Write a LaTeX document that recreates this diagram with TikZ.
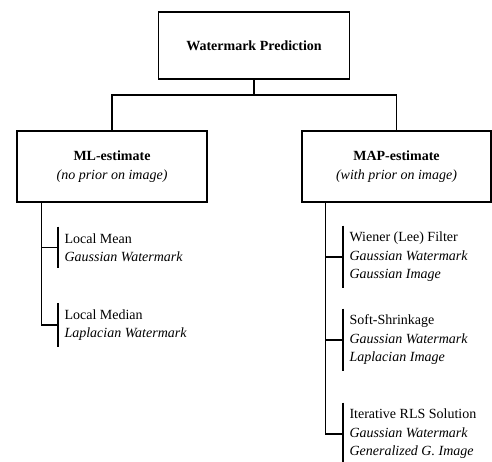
\documentclass[tikz,border=0pt]{standalone}
\usepackage{fontspec}
\setmainfont{Liberation Serif}
\usetikzlibrary{positioning}

\begin{document}
\begin{tikzpicture}[x=1pt, y=-1pt, line width=1.1pt,
    every node/.style={font=\fontsize{14}{18.5}\selectfont},
    box/.style={draw, rectangle, align=center, inner sep=0pt},
    leaf/.style={anchor=west, align=left, inner xsep=6pt, inner ysep=6pt}]
  \useasboundingbox (0,0) rectangle (492,461);
  % top level
  \node[box, minimum width=191pt, minimum height=67pt] (pred) at (254,45.5) {\textbf{Watermark Prediction}};
  \node[box, minimum width=190pt, minimum height=71pt] (ml) at (112,166.5) {\textbf{ML-estimate}\\ \textit{(no prior on image)}};
  \node[box, minimum width=189pt, minimum height=71pt] (map) at (396.5,166.5) {\textbf{MAP-estimate}\\ \textit{(with prior on image)}};
  \coordinate (split) at (254,95);
  \draw (pred.south) -- (split);
  \draw (ml.north) |- (split) -| (map.north);
  % ML branch
  \node[leaf] (mean) at (58,247.5) {Local Mean\\ \textit{Gaussian Watermark}};
  \node[leaf] (median) at (58,325) {Local Median\\ \textit{Laplacian Watermark}};
  \coordinate (mltrunk) at ([xshift=25pt]ml.south west);
  \draw (mltrunk) |- (median.west);
  \draw (mltrunk |- mean.west) -- (mean.west);
  \draw (mean.north west) -- (mean.south west);
  \draw (median.north west) -- (median.south west);
  % MAP branch
  \node[leaf] (wiener) at (343,257) {Wiener (Lee) Filter\\ \textit{Gaussian Watermark}\\ \textit{Gaussian Image}};
  \node[leaf] (shrink) at (343,340) {Soft-Shrinkage\\ \textit{Gaussian Watermark}\\ \textit{Laplacian Image}};
  \node[leaf] (rls) at (343,434) {Iterative RLS Solution\\ \textit{Gaussian Watermark}\\ \textit{Generalized G. Image}};
  \coordinate (maptrunk) at ([xshift=24pt]map.south west);
  \draw (maptrunk) |- (rls.west);
  \draw (maptrunk |- wiener.west) -- (wiener.west);
  \draw (maptrunk |- shrink.west) -- (shrink.west);
  \draw (wiener.north west) -- (wiener.south west);
  \draw (shrink.north west) -- (shrink.south west);
  \draw (rls.north west) -- (rls.south west);
\end{tikzpicture}
\end{document}
